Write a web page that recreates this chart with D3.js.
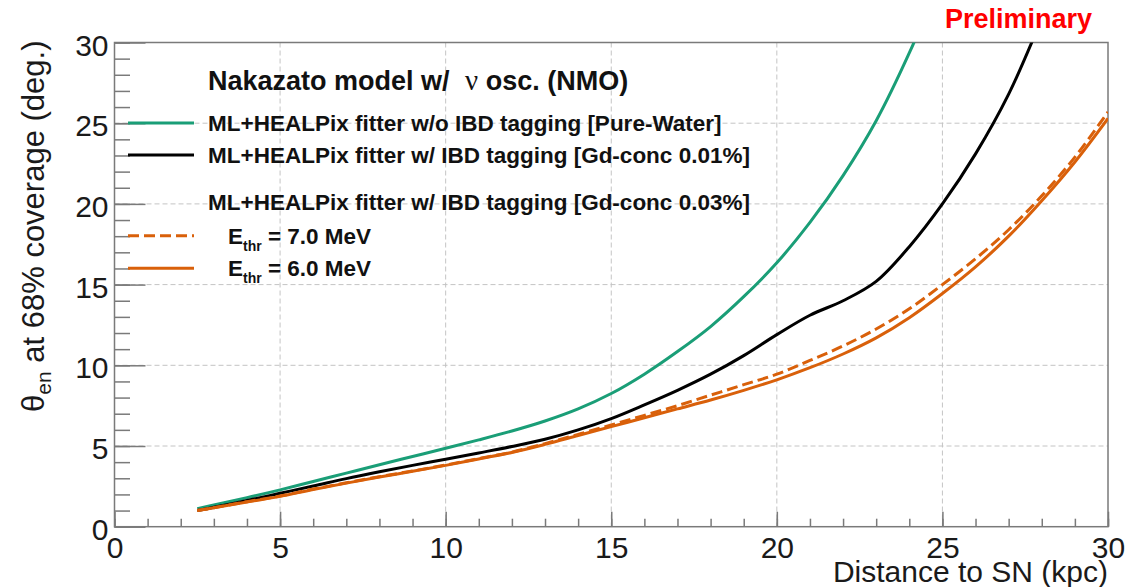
<!DOCTYPE html>
<html>
<head>
<meta charset="utf-8">
<script src="https://cdn.jsdelivr.net/npm/d3@7"></script>
<style>
  html, body { margin: 0; padding: 0; background: #fff; }
  svg { display: block; }
  text { font-family: "Liberation Sans", Arial, Helvetica, sans-serif; }
</style>
</head>
<body>
<svg id="chart" width="1126" height="587"></svg>
<script>
// ---------------- data ----------------
const distance = [2.5, 3, 4, 5, 6, 7, 8, 9, 10, 11, 12, 13, 14, 15, 16, 17, 18, 19, 20, 21, 22, 23, 24, 25, 26, 27, 28, 29, 30];
const pureWater = [1.12, 1.35, 1.8, 2.28, 2.8, 3.32, 3.84, 4.35, 4.86, 5.38, 5.93, 6.55, 7.3, 8.25, 9.45, 10.85, 12.4, 14.25, 16.35, 18.85, 21.75, 25.15, 29.35, 34.2, null, null, null, null, null];
const gd001 = [1.0, 1.2, 1.62, 2.07, 2.52, 2.98, 3.4, 3.8, 4.18, 4.57, 4.97, 5.42, 6.0, 6.7, 7.55, 8.45, 9.45, 10.6, 11.9, 13.1, 14.0, 15.2, 17.35, 20.0, 23.1, 26.8, 31.5, null, null];
const gd003Ethr7 = [1.0, 1.18, 1.55, 1.9, 2.33, 2.72, 3.1, 3.45, 3.82, 4.22, 4.62, 5.15, 5.72, 6.3, 6.9, 7.5, 8.15, 8.8, 9.45, 10.3, 11.2, 12.25, 13.5, 15.0, 16.6, 18.4, 20.5, 22.9, 25.7];
const gd003Ethr6 = [1.0, 1.17, 1.53, 1.88, 2.3, 2.7, 3.08, 3.43, 3.8, 4.2, 4.6, 5.1, 5.65, 6.2, 6.75, 7.3, 7.85, 8.45, 9.1, 9.85, 10.7, 11.7, 12.95, 14.45, 16.1, 18.0, 20.2, 22.6, 25.3];

const xTicks = [0, 5, 10, 15, 20, 25, 30];
const yTicks = [0, 5, 10, 15, 20, 25, 30];
const xMinor = d3.range(0, 31, 1);
const yMinor = d3.range(0, 31, 1);

const legendTitle = "Nakazato model w/ ";
const legendTitleNu = "\u03BD";
const legendTitleRest = " osc. (NMO)";
const legendLabels = [
  "ML+HEALPix fitter w/o IBD tagging [Pure-Water]",
  "ML+HEALPix fitter w/ IBD tagging [Gd-conc 0.01%]",
  "ML+HEALPix fitter w/ IBD tagging [Gd-conc 0.03%]",
  "7.0 MeV",
  "6.0 MeV"
];

// ---------------- layout ----------------
const svg = d3.select("#chart");
const L = 114.5, R = 1108, T = 42.5, B = 526.7;
const x = d3.scaleLinear().domain([0, 30]).range([L, R]);
const y = d3.scaleLinear().domain([0, 30]).range([B, T]);

const GREEN = "#1a9e77", ORANGE = "#d9600a", BLACK = "#000";
const axisCol = "#7a7a7a";

// grid
const grid = svg.append("g");
grid.selectAll(".gx").data(xTicks.slice(1, -1)).join("line")
  .attr("x1", d => x(d)).attr("x2", d => x(d)).attr("y1", T).attr("y2", B)
  .attr("stroke", "#c4c4c4").attr("stroke-width", 1).attr("stroke-dasharray", "5,3");
grid.selectAll(".gy").data(yTicks.slice(1, -1)).join("line")
  .attr("x1", L).attr("x2", R).attr("y1", d => y(d)).attr("y2", d => y(d))
  .attr("stroke", "#c4c4c4").attr("stroke-width", 1).attr("stroke-dasharray", "5,3");

// axes via d3 axis generators
const fontSize = 30;
const xAxisMinor = d3.axisBottom(x).tickValues(xMinor).tickSize(-8).tickFormat("");
const xAxisMajor = d3.axisBottom(x).tickValues(xTicks).tickSize(-15).tickFormat(d3.format("d"));
const yAxisMinor = d3.axisLeft(y).tickValues(yMinor).tickSize(-15.5).tickFormat("");
const yAxisMajor = d3.axisLeft(y).tickValues(yTicks).tickSize(-31).tickFormat(d3.format("d"));

function styleAxis(g) {
  g.select(".domain").remove();
  g.selectAll(".tick line").attr("stroke", axisCol).attr("stroke-width", 1.5);
  g.selectAll(".tick text").attr("fill", "#1a1a1a").style("font-size", fontSize + "px")
    .style("font-family", "'Liberation Sans', Arial, sans-serif");
}
svg.append("g").attr("transform", `translate(0,${B})`).call(xAxisMinor).call(styleAxis);
const gxM = svg.append("g").attr("transform", `translate(0,${B})`).call(xAxisMajor).call(styleAxis);
gxM.selectAll(".tick text").attr("y", 9).attr("dy", "0.76em");
svg.append("g").attr("transform", `translate(${L},0)`).call(yAxisMinor).call(styleAxis);
const gyM = svg.append("g").attr("transform", `translate(${L},0)`).call(yAxisMajor).call(styleAxis);
gyM.selectAll(".tick text").attr("x", -6).attr("dy", "0.42em");

// frame
svg.append("rect").attr("x", L).attr("y", T).attr("width", R - L).attr("height", B - T)
  .attr("fill", "none").attr("stroke", axisCol).attr("stroke-width", 1.5);

// clip
svg.append("clipPath").attr("id", "plotclip").append("rect")
  .attr("x", L).attr("y", T).attr("width", R - L).attr("height", B - T);

const series = [
  { vals: pureWater, color: GREEN, dash: null },
  { vals: gd001, color: BLACK, dash: null },
  { vals: gd003Ethr6, color: ORANGE, dash: null },
  { vals: gd003Ethr7, color: ORANGE, dash: "11,5" }
];
const line = d3.line()
  .defined(d => d[1] !== null)
  .x(d => x(d[0])).y(d => y(d[1]))
  .curve(d3.curveCatmullRom.alpha(0.5));
const lines = svg.append("g").attr("clip-path", "url(#plotclip)");
series.forEach(s => {
  lines.append("path")
    .datum(distance.map((d, i) => [d, s.vals[i]]))
    .attr("d", line)
    .attr("fill", "none")
    .attr("stroke", s.color)
    .attr("stroke-width", 3)
    .attr("stroke-dasharray", s.dash);
});

// axis titles
svg.append("text").attr("x", R).attr("y", 582).attr("text-anchor", "end")
  .style("font-size", "30px").attr("fill", "#1a1a1a").text("Distance to SN (kpc)");

const yt = svg.append("text").attr("transform", `translate(44,${T - 2}) rotate(-90)`)
  .attr("text-anchor", "end").style("font-size", "31px").attr("fill", "#1a1a1a");
yt.append("tspan").text("\u03B8");
yt.append("tspan").attr("dy", 7).style("font-size", "21px").text("en");
yt.append("tspan").attr("dy", -7).text(" at 68% coverage (deg.)");

// Preliminary
svg.append("text").attr("x", 1092).attr("y", 28).attr("text-anchor", "end")
  .style("font-size", "27px").style("font-weight", "bold").attr("fill", "#ff0000").text("Preliminary");

// legend
const lg = svg.append("g");
const tx = 208;
const title = lg.append("text").attr("x", tx).attr("y", 90).style("font-size", "27px").style("font-weight", "bold").attr("fill", "#111");
title.append("tspan").text(legendTitle);
title.append("tspan").attr("dx", 8).style("font-family", "'Liberation Serif', 'DejaVu Serif', serif").style("font-weight", "normal").style("font-size", "29px").text(legendTitleNu);
title.append("tspan").text(legendTitleRest);

const entries = [
  { yc: 123, color: GREEN, dash: null, label: legendLabels[0], ethr: false },
  { yc: 155, color: BLACK, dash: null, label: legendLabels[1], ethr: false },
  { yc: 202, color: null, dash: null, label: legendLabels[2], ethr: false },
  { yc: 235.7, color: ORANGE, dash: "11,5", label: legendLabels[3], ethr: true },
  { yc: 268.3, color: ORANGE, dash: null, label: legendLabels[4], ethr: true }
];
entries.forEach(e => {
  if (e.color) {
    lg.append("line").attr("x1", 128).attr("x2", 194).attr("y1", e.yc).attr("y2", e.yc)
      .attr("stroke", e.color).attr("stroke-width", 3).attr("stroke-dasharray", e.dash);
  }
  const t = lg.append("text").attr("y", e.yc + 8).style("font-size", "22.5px").style("font-weight", "bold").attr("fill", "#111");
  if (e.ethr) {
    t.attr("x", 228);
    t.append("tspan").text("E");
    t.append("tspan").attr("dy", 7).style("font-size", "14px").text("thr");
    t.append("tspan").attr("dy", -7).text(" = " + e.label);
  } else {
    t.attr("x", tx).text(e.label);
  }
});
</script>
</body>
</html>
